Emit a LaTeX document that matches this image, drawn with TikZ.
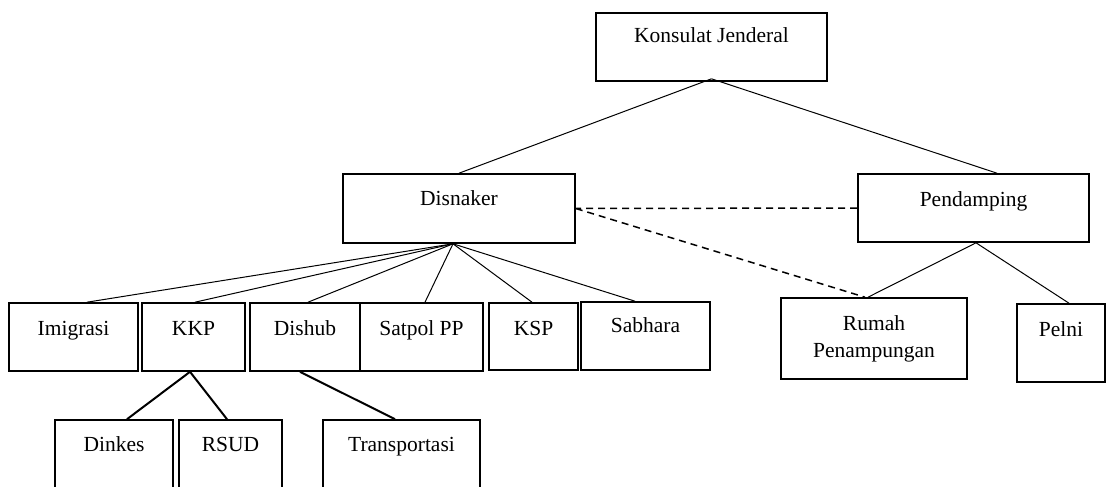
\documentclass[tikz,border=0pt]{standalone}
\usepackage{fontspec}
\setmainfont{Liberation Serif}
\usepackage{tikz}
\usetikzlibrary{positioning}
\tikzstyle{org_box} = [
    rectangle, 
    draw=black, 
    line width=1.6pt, 
    font=\fontsize{21.5}{27}\selectfont, 
    inner sep=0pt, 
    text height=31pt, % text sits near the top
    text depth=37pt
]
\tikzstyle{org_box_two} = [
    rectangle, 
    draw=black, 
    line width=1.6pt, 
    font=\fontsize{21.5}{27}\selectfont, 
    align=center, 
    inner sep=0pt
]
\tikzstyle{thin_link} = [draw=black, line width=1pt]
\tikzstyle{thick_link} = [draw=black, line width=2pt]
\tikzstyle{dash_link} = [draw=black, line width=1.5pt, dash pattern=on 7pt off 5pt]

\begin{document}
\begin{tikzpicture}[x=1pt, y=-1pt]
\useasboundingbox (0,0) rectangle (1119,487);
\clip (0,0) rectangle (1119,487);

% top level
\node [org_box, minimum width=231pt, text height=30pt, text depth=38pt] (konsul) at (711.5,47) {Konsulat Jenderal};
\node [org_box, minimum width=232pt, text height=31pt, text depth=38pt] (disnaker) at (459,208.5) {Disnaker};
\node [org_box, minimum width=231pt, text height=32pt, text depth=36pt] (pendamping) at (973.5,208) {Pendamping};

% second row
\node [org_box, minimum width=129pt, text height=32pt, text depth=36pt] (imigrasi) at (73.5,337) {Imigrasi};
\node [org_box, minimum width=103pt, text height=32pt, text depth=36pt] (kkp) at (193.5,337) {KKP};
\node [org_box, minimum width=110pt, text height=32pt, text depth=36pt] (dishub) at (305,337) {Dishub};
\node [org_box, minimum width=123pt, text height=32pt, text depth=36pt] (satpol) at (421.5,337) {Satpol PP};
\node [org_box, minimum width=89pt, text height=32pt, text depth=35pt] (ksp) at (533.5,336.5) {KSP};
\node [org_box, minimum width=129pt, text height=30pt, text depth=38pt] (sabhara) at (645.5,336) {Sabhara};
\node [org_box_two, minimum width=186pt, minimum height=81pt] (rumah) at (874,338.5) {Rumah\\Penampungan};
\node [org_box, minimum width=88pt, text height=32pt, text depth=46pt] (pelni) at (1061,343) {Pelni};

% third row
\node [org_box, minimum width=118pt, text height=31pt, text depth=49pt] (dinkes) at (114,460) {Dinkes};
\node [org_box, minimum width=103pt, text height=31pt, text depth=49pt] (rsud) at (230.5,460) {RSUD};
\node [org_box, minimum width=157pt, text height=31pt, text depth=49pt] (transport) at (401.5,460) {Transportasi};

\coordinate (fan) at ([xshift=-6pt]disnaker.south);

\draw [thin_link] ([yshift=3pt]konsul.south) -- (disnaker.north);
\draw [thin_link] ([yshift=3pt]konsul.south) -- ([xshift=23.5pt]pendamping.north);

\draw [thin_link] (fan) -- ([xshift=13.5pt]imigrasi.north);
\draw [thin_link] (fan) -- ([xshift=1.5pt]kkp.north);
\draw [thin_link] (fan) -- ([xshift=3pt]dishub.north);
\draw [thin_link] (fan) -- ([xshift=3.5pt]satpol.north);
\draw [thin_link] (fan) -- ([xshift=-1.5pt]ksp.north);
\draw [thin_link] (fan) -- ([xshift=-10.5pt]sabhara.north);

\draw [thin_link] ([xshift=2.5pt]pendamping.south) -- ([xshift=-6pt]rumah.north);
\draw [thin_link] ([xshift=2.5pt]pendamping.south) -- ([xshift=8pt]pelni.north);

\draw [dash_link] (pendamping.west) -- (disnaker.east);
\draw [dash_link] (disnaker.east) -- ([xshift=-9pt]rumah.north);

\draw [thick_link] ([xshift=-3.5pt]kkp.south) -- ([xshift=13pt]dinkes.north);
\draw [thick_link] ([xshift=-3.5pt]kkp.south) -- ([xshift=-3.5pt]rsud.north);
\draw [thick_link] ([xshift=-5pt]dishub.south) -- ([xshift=-6.5pt]transport.north);
\end{tikzpicture}
\end{document}
